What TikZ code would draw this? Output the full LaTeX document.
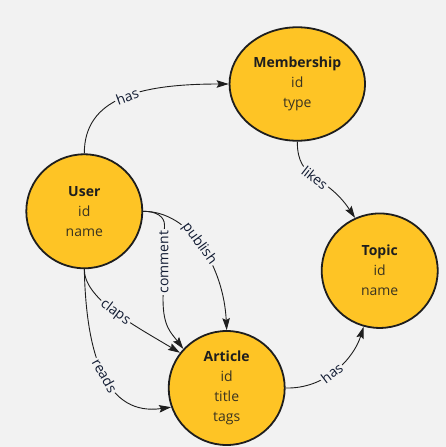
\documentclass[tikz,border=0pt]{standalone}
\usepackage{fontspec}
\setmainfont{Open Sans}
\usetikzlibrary{shapes.geometric,arrows.meta}
\definecolor{bg}{HTML}{F2F2F2}
\definecolor{nodefill}{HTML}{FEC425}
\definecolor{edgec}{HTML}{1E1E1E}
\definecolor{labelc}{HTML}{121C33}
\definecolor{attrc}{HTML}{3A3320}
\definecolor{titlec}{HTML}{1E1E1E}
\begin{document}
\begin{tikzpicture}[x=1pt,y=1pt,
  entity/.style={ellipse, draw=edgec, line width=1.8pt, fill=nodefill, inner sep=0pt,
    align=center, font=\fontsize{14}{20}\selectfont, text=attrc},
  rel/.style={draw=edgec, line width=0.9pt, -{Stealth[length=12pt,width=7.5pt,inset=2pt]}},
  lbl/.style={fill=bg, inner sep=1.5pt, text=labelc, font=\fontsize{14}{16}\selectfont}]
\fill[bg] (0,0) rectangle (446,-447);
\useasboundingbox (0,0) rectangle (446,-447);

\node[entity, minimum width=135.5pt, minimum height=113.5pt] (mem) at (297.3,-84)
  {{\bfseries\color{titlec}Membership}\\id\\type};
\node[entity, minimum width=116pt, minimum height=114pt] (user) at (84.3,-211.3)
  {{\bfseries\color{titlec}User}\\id\\name};
\node[entity, minimum width=116pt, minimum height=114.5pt] (topic) at (379.7,-270.7)
  {{\bfseries\color{titlec}Topic}\\id\\name};
\node[entity, minimum width=116pt, minimum height=114pt] (art) at (226.7,-388)
  {{\bfseries\color{titlec}Article}\\id\\title\\tags};

\coordinate (cm1) at (164.5,-225);
\coordinate (cm2) at (163,-299);

\draw[rel] (user.north) .. controls +(0,55) and +(-90,0) .. node[lbl,sloped,pos=0.53]{has} (mem.west);
\draw[rel] (mem.south) .. controls +(0,-40) and +(-30,45) .. node[lbl,sloped]{likes} (topic.115);
\draw[rel] (user.east) .. controls +(48,0) and +(-3,62) .. node[lbl,sloped,pos=0.47]{publish} (art.north);
\draw[rel] (user.east) .. controls +(14,0) and +(0,8) .. (cm1) -- node[lbl,rotate=90]{comment} (cm2)
  .. controls +(0,-28) and +(-12,16) .. (art.138);
\draw[rel] (user.south) .. controls +(0,-30) and +(-45,27) .. node[lbl,sloped]{claps} (art.143);
\draw[rel] (user.south) .. controls +(2,-91) and +(-63,-9) .. node[lbl,sloped]{reads} (art.199);
\draw[rel] (art.east) .. controls +(40,-1) and +(-10,-32) .. node[lbl,sloped,pos=0.45]{has} (topic.254);
\end{tikzpicture}
\end{document}
